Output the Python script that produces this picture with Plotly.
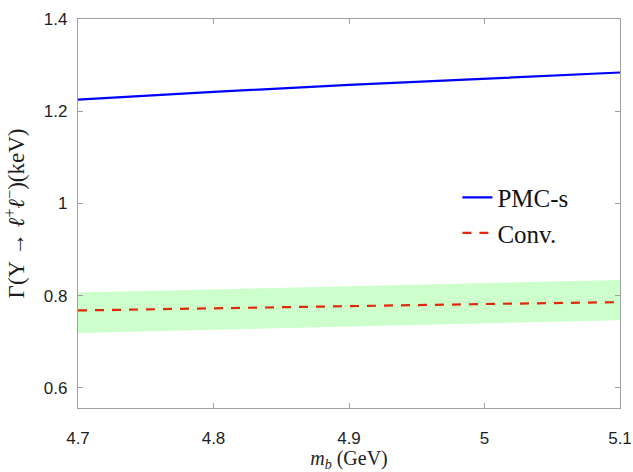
import plotly.graph_objects as go

# Data
mb = [4.7, 4.8, 4.9, 5.0, 5.1]
pmc_s = [1.225, 1.242, 1.257, 1.271, 1.284]
conv = [0.768, 0.773, 0.778, 0.782, 0.786]
conv_low = [0.719, 0.726, 0.733, 0.740, 0.747]
conv_high = [0.807, 0.814, 0.821, 0.828, 0.834]

x_ticks = [4.7, 4.8, 4.9, 5.0, 5.1]
x_ticklabels = ["4.7", "4.8", "4.9", "5", "5.1"]
y_ticks = [0.6, 0.8, 1.0, 1.2, 1.4]
y_ticklabels = ["0.6", "0.8", "1", "1.2", "1.4"]

band_color = "rgb(204,255,204)"

fig = go.Figure()
fig.add_trace(go.Scatter(x=mb, y=conv_low, mode="lines", line=dict(width=0, color=band_color),
                         showlegend=False, hoverinfo="skip"))
fig.add_trace(go.Scatter(x=mb, y=conv_high, mode="lines", line=dict(width=0, color=band_color),
                         fill="tonexty", fillcolor=band_color, showlegend=False, hoverinfo="skip"))
fig.add_trace(go.Scatter(x=mb, y=pmc_s, mode="lines", name="PMC-s",
                         line=dict(color="rgb(0,0,255)", width=2.2)))
fig.add_trace(go.Scatter(x=mb, y=conv, mode="lines", name="Conv.",
                         line=dict(color="rgb(225,40,10)", width=2.2, dash="9px,8px")))

axis_common = dict(
    showline=True, linecolor="rgb(160,160,160)", linewidth=1.3, mirror="ticks",
    ticks="inside", ticklen=5, tickcolor="rgb(160,160,160)", showgrid=False, zeroline=False,
    automargin=False,
    tickfont=dict(family="Liberation Sans, Arial, sans-serif", size=17, color="rgb(30,30,30)"),
)

fig.update_layout(
    width=633, height=472,
    margin=dict(l=78, r=13, t=19, b=64),
    paper_bgcolor="white", plot_bgcolor="white",
    xaxis=dict(range=[4.7, 5.1], tickvals=x_ticks, ticktext=x_ticklabels, ticklabelstandoff=14,
               title=dict(text="<i>m</i><sub><i>b</i></sub> (GeV)", standoff=9,
                          font=dict(family="Liberation Serif, DejaVu Serif, serif", size=20, color="rgb(30,30,30)")),
               **axis_common),
    yaxis=dict(range=[0.5565, 1.4], tickvals=y_ticks, ticktext=y_ticklabels, ticklabelstandoff=6,
               title=dict(text="Γ(Υ → <i>ℓ</i><sup>+</sup><i>ℓ</i><sup>−</sup>)(keV)", standoff=12,
                          font=dict(family="Liberation Serif, DejaVu Serif, serif", size=23, color="rgb(30,30,30)")),
               **axis_common),
    legend=dict(x=0.70, y=0.60, xanchor="left", yanchor="top", bgcolor="rgba(0,0,0,0)",
                traceorder="normal",
                font=dict(family="Liberation Serif, DejaVu Serif, serif", size=25, color="rgb(20,20,20)"),
                itemwidth=30, tracegroupgap=0),
)

fig.write_html("out.html", config={"displayModeBar": False},
               post_script="document.body.style.margin='0';document.body.style.overflow='hidden';")
